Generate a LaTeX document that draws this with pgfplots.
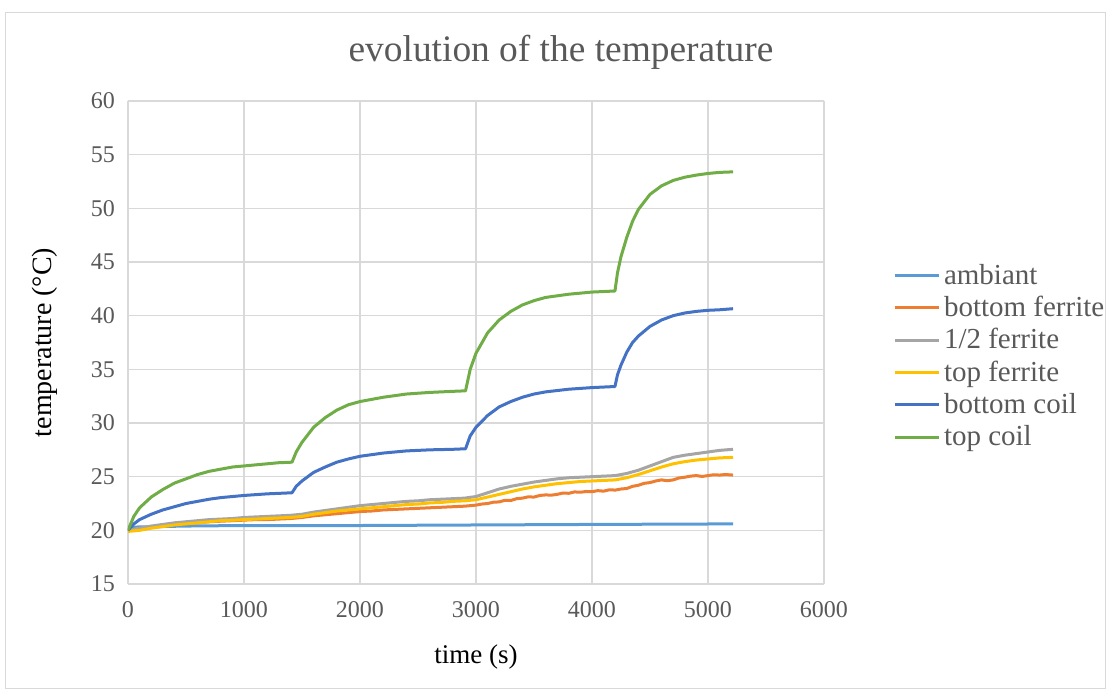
\documentclass[border=0pt]{standalone}
\usepackage{pgfplots}
\pgfplotsset{compat=1.18}
\usepackage{fontspec}
\setmainfont{Liberation Serif}

\definecolor{cAmb}{HTML}{5B9BD5}
\definecolor{cBotF}{HTML}{ED7D31}
\definecolor{cMidF}{HTML}{A5A5A5}
\definecolor{cTopF}{HTML}{FFC000}
\definecolor{cBotC}{HTML}{4472C4}
\definecolor{cTopC}{HTML}{70AD47}
\definecolor{txt}{HTML}{595959}
\definecolor{grd}{HTML}{D9D9D9}

\begin{document}
\begin{tikzpicture}
\useasboundingbox (-64pt,-54.5pt) rectangle (491pt,292pt);
\draw[grd] (-61.5pt,-52pt) rectangle (488.5pt,286pt);
\node[text=txt,font=\fontsize{18.7}{22}\selectfont] at (216.5pt,266pt) {evolution of the temperature};
\begin{axis}[
  scale only axis,
  width=348pt, height=241.5pt,
  xmin=0, xmax=6000, ymin=15, ymax=60,
  xtick={0,1000,...,6000}, ytick={15,20,...,60},
  grid=major,
  major grid style={grd, line width=0.6pt},
  axis line style={draw=none},
  tick style={draw=none},
  scaled x ticks=false,
  /pgf/number format/assume math mode=true,
  /pgf/number format/1000 sep={},
  ticklabel style={text=txt, font=\fontsize{12}{14}\selectfont},
  xticklabel style={yshift=-5pt},
  yticklabel style={xshift=-3pt},
  xlabel={time (s)},
  ylabel={temperature (°C)},
  every axis x label/.style={at={(axis description cs:0.5,-0.152)}, anchor=center, font=\fontsize{13.5}{16}\selectfont},
  every axis y label/.style={at={(axis description cs:-0.1193,0.5)}, rotate=90, anchor=center, font=\fontsize{14}{16}\selectfont},
  legend cell align=left,
  legend style={draw=none, fill=none, at={(1.09,0.68)}, anchor=north west,
    font=\fontsize{14.5}{17}\selectfont, text=txt, row sep=0.5pt,
    /tikz/every odd column/.append style={column sep=0pt}},
  legend image code/.code={\draw[#1] (0pt,0pt) -- (22pt,0pt);},
  every axis plot/.append style={line width=1.5pt, line join=round, no markers},
]
\addplot[cAmb] coordinates {
(0,20.0)(30,20.3)(500,20.4)(1000,20.45)(2000,20.45)(3000,20.5)(4000,20.55)(5216,20.6)};
\addlegendentry{ambiant}
\addplot[cBotF] coordinates {
(0,20.0)(100,20.15)(200,20.3)(300,20.45)(400,20.55)(500,20.65)(600,20.7)(700,20.8)(800,20.85)(900,20.9)
(1000,20.95)(1100,21.0)(1200,21.0)(1300,21.05)(1400,21.1)(1500,21.2)(1600,21.35)(1700,21.45)(1800,21.55)(1900,21.65)
(2000,21.75)(2100,21.8)(2200,21.9)(2300,21.95)(2400,22.0)(2500,22.05)(2600,22.1)(2700,22.15)(2800,22.2)(2900,22.25)
(3000,22.35)(3050,22.45)(3100,22.5)(3150,22.62)(3200,22.65)(3250,22.8)(3300,22.78)(3350,22.95)(3400,23.0)(3450,23.12)
(3500,23.1)(3550,23.25)(3600,23.3)(3650,23.28)(3700,23.35)(3750,23.48)(3800,23.45)(3850,23.58)(3900,23.55)(3950,23.62)
(4000,23.6)(4050,23.7)(4100,23.65)(4150,23.78)(4200,23.75)(4250,23.85)(4300,23.9)(4350,24.1)(4400,24.2)(4450,24.38)
(4500,24.45)(4550,24.6)(4600,24.7)(4650,24.62)(4700,24.7)(4750,24.88)(4800,24.95)(4850,25.05)(4900,25.1)(4950,25.02)
(5000,25.1)(5050,25.18)(5100,25.15)(5150,25.2)(5216,25.15)};
\addlegendentry{bottom ferrite}
\addplot[cMidF] coordinates {
(0,20.0)(100,20.2)(200,20.4)(300,20.55)(400,20.7)(500,20.8)(600,20.9)(700,21.0)(800,21.05)(900,21.1)
(1000,21.2)(1100,21.25)(1200,21.3)(1300,21.35)(1400,21.4)(1500,21.5)(1600,21.7)(1700,21.85)(1800,22.0)(1900,22.15)
(2000,22.3)(2100,22.4)(2200,22.5)(2300,22.6)(2400,22.7)(2500,22.75)(2600,22.85)(2700,22.9)(2800,22.95)(2900,23.0)
(3000,23.15)(3100,23.5)(3200,23.85)(3300,24.1)(3400,24.3)(3500,24.5)(3600,24.65)(3700,24.8)(3800,24.9)(3900,24.95)
(4000,25.0)(4100,25.05)(4200,25.1)(4300,25.3)(4400,25.6)(4500,26.0)(4600,26.4)(4700,26.8)(4800,27.0)(4900,27.15)
(5000,27.3)(5100,27.45)(5216,27.55)};
\addlegendentry{1/2 ferrite}
\addplot[cTopF] coordinates {
(0,19.9)(100,20.0)(200,20.2)(300,20.35)(400,20.5)(500,20.6)(600,20.7)(700,20.8)(800,20.9)(900,20.95)
(1000,21.0)(1100,21.05)(1200,21.1)(1300,21.15)(1400,21.2)(1500,21.3)(1600,21.5)(1700,21.65)(1800,21.8)(1900,21.9)
(2000,22.0)(2100,22.1)(2200,22.2)(2300,22.3)(2400,22.4)(2500,22.45)(2600,22.55)(2700,22.6)(2800,22.7)(2900,22.75)
(3000,22.85)(3100,23.1)(3200,23.35)(3300,23.6)(3400,23.85)(3500,24.05)(3600,24.2)(3700,24.35)(3800,24.45)(3900,24.55)
(4000,24.6)(4100,24.65)(4200,24.7)(4300,24.9)(4400,25.2)(4500,25.55)(4600,25.9)(4700,26.2)(4800,26.4)(4900,26.55)
(5000,26.65)(5100,26.75)(5216,26.8)};
\addlegendentry{top ferrite}
\addplot[cBotC] coordinates {
(0,20.0)(50,20.6)(100,21.0)(200,21.5)(300,21.9)(400,22.2)(500,22.5)(600,22.7)(700,22.9)(800,23.05)(900,23.15)
(1000,23.25)(1200,23.4)(1414,23.5)
(1450,24.1)(1500,24.6)(1600,25.4)(1700,25.9)(1800,26.35)(1900,26.65)(2000,26.9)(2200,27.2)(2400,27.4)(2600,27.5)(2800,27.55)(2910,27.6)
(2950,28.8)(3000,29.6)(3100,30.7)(3200,31.5)(3300,32.0)(3400,32.4)(3500,32.7)(3600,32.9)(3800,33.15)(4000,33.3)(4198,33.4)
(4220,34.5)(4250,35.4)(4300,36.6)(4350,37.5)(4400,38.1)(4500,39.0)(4600,39.6)(4700,40.0)(4800,40.25)(4900,40.4)(5000,40.5)(5100,40.55)(5216,40.65)};
\addlegendentry{bottom coil}
\addplot[cTopC] coordinates {
(0,20.0)(50,21.3)(100,22.1)(200,23.1)(300,23.8)(400,24.4)(500,24.8)(600,25.2)(700,25.5)(800,25.7)(900,25.9)
(1000,26.0)(1100,26.1)(1200,26.2)(1300,26.3)(1414,26.35)
(1450,27.3)(1500,28.2)(1600,29.6)(1700,30.5)(1800,31.2)(1900,31.7)(2000,32.0)(2200,32.4)(2400,32.7)(2600,32.85)(2800,32.95)(2910,33.0)
(2950,35.0)(3000,36.5)(3100,38.4)(3200,39.6)(3300,40.4)(3400,41.0)(3500,41.4)(3600,41.7)(3800,42.0)(4000,42.2)(4198,42.3)
(4220,44.0)(4250,45.5)(4300,47.3)(4350,48.8)(4400,49.9)(4500,51.3)(4600,52.1)(4700,52.6)(4800,52.9)(4900,53.1)(5000,53.25)(5100,53.35)(5216,53.4)};
\addlegendentry{top coil}
\end{axis}
\end{tikzpicture}
\end{document}
